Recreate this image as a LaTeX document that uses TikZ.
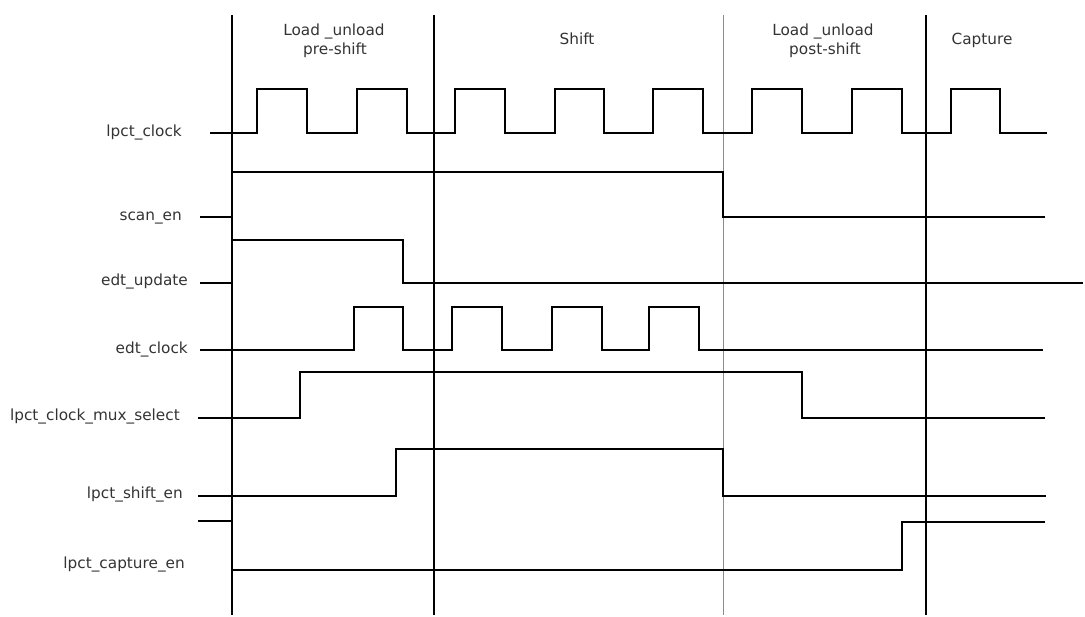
\documentclass[tikz,border=0pt]{standalone}
\usepackage{fontspec}
\setmainfont{DejaVu Sans}
\begin{document}
\begin{tikzpicture}[x=1pt,y=-1pt,
  wave/.style={line width=2pt, line join=miter, line cap=butt},
  divider/.style={line width=1.1pt, black},
  dividerlight/.style={line width=1pt, black!45},
  lbl/.style={anchor=base east, inner sep=0pt, text=black!80, font=\fontsize{15.3}{18}\selectfont},
  hdr/.style={anchor=base, inner sep=0pt, text=black!80, font=\fontsize{15.3}{18}\selectfont}]
\useasboundingbox (0,0) rectangle (1085,617);

% phase dividers
\draw[divider] (232,15) -- (232,615);
\draw[divider] (434,15) -- (434,615);
\draw[dividerlight] (723,15) -- (723,615);
\draw[divider] (926,15) -- (926,615);

% phase headers
\node[hdr] (h1a) at (334,36) {Load \_unload};
\node[hdr] (h1b) at (335,55) {pre-shift};
\node[hdr] (h2) at (577,45) {Shift};
\node[hdr] (h3a) at (823,36) {Load \_unload};
\node[hdr] (h3b) at (825,55) {post-shift};
\node[hdr] (h4) at (982,45) {Capture};

% signal names
\node[lbl] (s1) at (182,137) {lpct\_clock};
\node[lbl] (s2) at (182,220.5) {scan\_en};
\node[lbl] (s3) at (188,286) {edt\_update};
\node[lbl] (s4) at (188,354) {edt\_clock};
\node[lbl] (s5) at (180,421) {lpct\_clock\_mux\_select};
\node[lbl] (s6) at (183,498.5) {lpct\_shift\_en};
\node[lbl] (s7) at (185,568) {lpct\_capture\_en};

% waveforms
\draw[wave] (210,133) -- (257,133) |- (307,89) |- (357,133) |- (407,89) |- (455,133)
  |- (505,89) |- (555,133) |- (604,89) |- (653,133) |- (703,89) |- (752,133)
  |- (802,89) |- (852,133) |- (902,89) |- (951,133) |- (1000,89) |- (1047,133);
\draw[wave] (200,217) -- (232,217) |- (723,172) |- (1045,217);
\draw[wave] (200,283) -- (232,283) |- (403,240) |- (1083,283);
\draw[wave] (200,350) -- (354,350) |- (403,307) |- (452,350) |- (502,307) |- (552,350)
  |- (602,307) |- (649,350) |- (699,307) |- (1043,350);
\draw[wave] (198,418) -- (300,418) |- (802,372) |- (1045,418);
\draw[wave] (198,496) -- (396,496) |- (723,449) |- (1046,496);
\draw[wave] (198,521) -- (232,521) |- (902,570) |- (1045,522);
\end{tikzpicture}
\end{document}
